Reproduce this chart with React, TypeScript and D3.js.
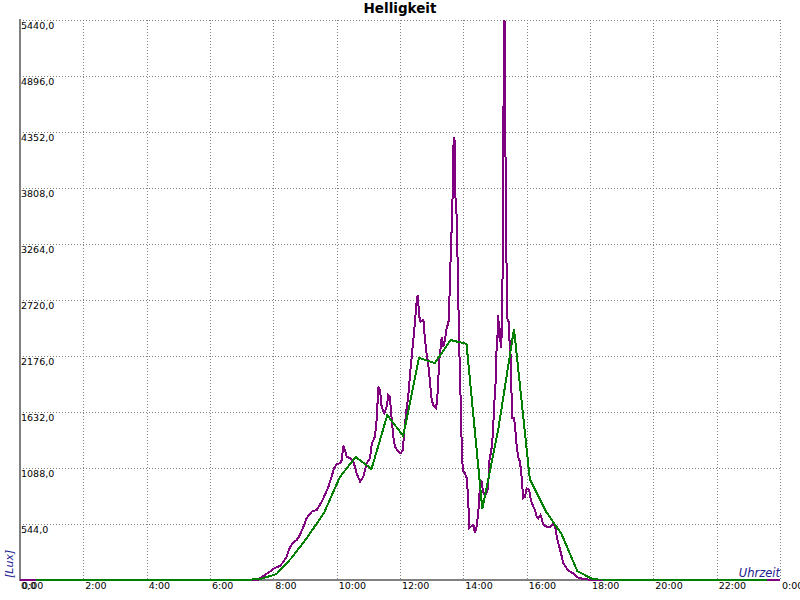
import React from 'react';
import * as d3 from 'd3';

// Helligkeit (Lux) readings: [hour of day, lux]
const luxReadings: [number, number][] = [
  [0, 0], [7.52, 0], [7.58, 17], [7.74, 49], [7.89, 81], [8.05, 117], [8.21, 136], [8.32, 178],
  [8.42, 226], [8.53, 323], [8.63, 362], [8.74, 389], [8.84, 437], [8.95, 518], [9.05, 599],
  [9.21, 663], [9.37, 680], [9.47, 729], [9.58, 794], [9.74, 906], [9.84, 1003], [9.92, 1088],
  [10.01, 1127], [10.11, 1134], [10.16, 1166], [10.21, 1305], [10.26, 1263], [10.32, 1198],
  [10.42, 1182], [10.53, 1149], [10.63, 1037], [10.74, 955], [10.84, 1003], [10.95, 1134],
  [11.05, 1182], [11.11, 1328], [11.21, 1392], [11.26, 1554], [11.32, 1878], [11.37, 1846],
  [11.42, 1684], [11.5, 1619], [11.58, 1684], [11.63, 1797], [11.68, 1781], [11.74, 1554],
  [11.79, 1392], [11.84, 1295], [11.95, 1246], [12.02, 1231], [12.09, 1263], [12.13, 1425],
  [12.19, 1619], [12.26, 1781], [12.32, 2008], [12.37, 2169], [12.42, 2331], [12.47, 2494],
  [12.53, 2720], [12.56, 2769], [12.61, 2558], [12.65, 2509], [12.74, 2526], [12.79, 2331],
  [12.84, 2202], [12.89, 2105], [12.95, 1911], [13.0, 1749], [13.05, 1700], [13.14, 1668],
  [13.18, 1781], [13.24, 2137], [13.32, 2363], [13.37, 2266], [13.42, 2331], [13.48, 2461],
  [13.53, 2494], [13.56, 2720], [13.58, 2946], [13.61, 3222], [13.64, 3497], [13.66, 3723],
  [13.68, 4194], [13.72, 4306], [13.75, 3723], [13.79, 3529], [13.81, 3238], [13.84, 2752],
  [13.87, 2266], [13.9, 1943], [13.93, 1554], [13.96, 1166], [14.0, 1052], [14.05, 1037],
  [14.11, 988], [14.16, 745], [14.18, 502], [14.23, 518], [14.32, 534], [14.37, 454],
  [14.42, 518], [14.47, 648], [14.52, 891], [14.57, 971], [14.62, 858], [14.68, 826],
  [14.73, 842], [14.78, 891], [14.83, 1182], [14.88, 1246], [14.94, 1441], [14.97, 1700],
  [15.01, 1829], [15.04, 2202], [15.07, 2283], [15.1, 2574], [15.15, 2315], [15.18, 2445],
  [15.2, 2251], [15.23, 2801], [15.25, 3141], [15.28, 5440], [15.31, 5420], [15.34, 3611],
  [15.36, 3157], [15.39, 2542], [15.43, 2509], [15.46, 2315], [15.5, 2154], [15.52, 1829],
  [15.55, 1571], [15.6, 1571], [15.64, 1474], [15.67, 1343], [15.73, 1198], [15.79, 1149],
  [15.84, 1003], [15.89, 794], [15.95, 809], [16.0, 891], [16.08, 874], [16.13, 777],
  [16.21, 712], [16.26, 680], [16.32, 615], [16.37, 599], [16.44, 631], [16.53, 534],
  [16.63, 518], [16.74, 518], [16.84, 551], [16.9, 518], [16.95, 421], [17.03, 323],
  [17.11, 226], [17.16, 162], [17.26, 114], [17.37, 81], [17.47, 65], [17.63, 22],
  [17.79, 10], [18.05, 0], [24, 0],
];

// half-hour average: [hour of day, lux]
const avgReadings: [number, number][] = [
  [0.5, 0], [7.1, 0], [7.6, 10], [8.1, 58], [8.6, 223], [9.1, 427], [9.6, 651], [10.1, 1000],
  [10.6, 1195], [11.1, 1078], [11.6, 1603], [12.1, 1399], [12.6, 2157], [13.1, 2108],
  [13.6, 2331], [14.1, 2293], [14.6, 690], [15.1, 1457], [15.6, 2438], [16.1, 981],
  [16.6, 670], [17.1, 447], [17.6, 87], [18.1, 5], [23.6, 0],
];

const yTicks = [0, 544, 1088, 1632, 2176, 2720, 3264, 3808, 4352, 4896, 5440];
const xTicks = [0, 2, 4, 6, 8, 10, 12, 14, 16, 18, 20, 22, 24];

const W = 800;
const H = 600;
const left = 20;
const right = 780;
const top = 20;
const bottom = 580;
const font = '"DejaVu Sans", Verdana, sans-serif';

export default function App() {
  const x = d3.scaleLinear().domain([0, 24]).range([left, right]);
  const y = d3.scaleLinear().domain([0, 5440]).range([bottom, top]);

  const line = d3
    .line<[number, number]>()
    .x((d) => x(d[0]))
    .y((d) => y(d[1]));

  const fmtY = (v: number) => d3.format('.1f')(v).replace('.', ',');
  const fmtX = (h: number) => `${h % 24}:00`;

  return (
    <svg
      width={W}
      height={H}
      style={{ position: 'absolute', left: 0, top: 0, background: '#fff' }}
    >
      {/* grid */}
      {yTicks.slice(1).map((t) => (
        <line
          key={'gy' + t}
          x1={left}
          x2={right}
          y1={y(t) + 0.5}
          y2={y(t) + 0.5}
          stroke="#808080"
          strokeDasharray="1,2"
          shapeRendering="crispEdges"
        />
      ))}
      {xTicks.slice(1).map((t) => (
        <line
          key={'gx' + t}
          x1={x(t) + 0.5}
          x2={x(t) + 0.5}
          y1={top}
          y2={bottom}
          stroke="#808080"
          strokeDasharray="1,2"
          shapeRendering="crispEdges"
        />
      ))}

      {/* axes */}
      <line x1={left} x2={left} y1={top - 1} y2={bottom + 1} stroke="#808080" strokeWidth={2} shapeRendering="crispEdges" />
      <line x1={left} x2={right} y1={bottom} y2={bottom} stroke="#808080" strokeWidth={2} shapeRendering="crispEdges" />

      {/* series */}
      <path d={line(luxReadings) || ''} fill="none" stroke="#800080" strokeWidth={2} shapeRendering="crispEdges" />
      <path d={line(avgReadings) || ''} fill="none" stroke="#008000" strokeWidth={2} shapeRendering="crispEdges" />

      {/* y labels */}
      {yTicks.map((t) => (
        <text key={'ly' + t} x={left + 1} y={y(t) + 9} fontFamily={font} fontSize={9.5} fill="#000">
          {fmtY(t)}
        </text>
      ))}
      {/* x labels */}
      {xTicks.map((t) => (
        <text key={'lx' + t} x={x(t) + 2} y={588.5} fontFamily={font} fontSize={9.5} fill="#000">
          {fmtX(t)}
        </text>
      ))}

      <text x={W / 2} y={13} textAnchor="middle" fontFamily={font} fontSize={13.5} fontWeight="bold" fill="#000">
        Helligkeit
      </text>
      <text
        transform={`translate(13,578) rotate(-90)`}
        fontFamily={font}
        fontSize={11}
        fontStyle="italic"
        fill="#202090"
      >
        [Lux]
      </text>
      <text x={right} y={577} textAnchor="end" fontFamily={font} fontSize={11.5} fontStyle="italic" fill="#202090">
        Uhrzeit
      </text>
    </svg>
  );
}
